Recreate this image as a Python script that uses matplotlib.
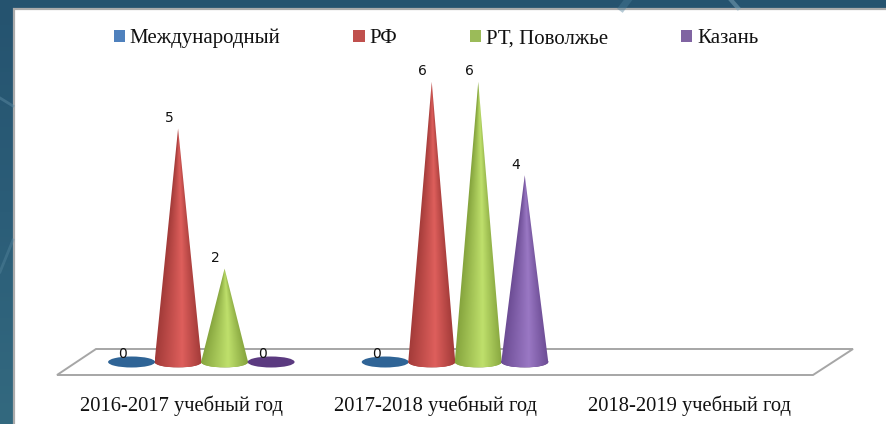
import numpy as np
import matplotlib
matplotlib.use("Agg")
import matplotlib.pyplot as plt
from matplotlib.colors import LinearSegmentedColormap
from matplotlib.patches import Ellipse, PathPatch, Polygon, Rectangle
from matplotlib.path import Path

categories = ["2016-2017 учебный год", "2017-2018 учебный год", "2018-2019 учебный год"]
series_names = ["Международный", "РФ", "РТ, Поволжье", "Казань"]
mezhdunarodny = [0, 0, np.nan]
rf = [5, 6, np.nan]
rt_povolzhye = [2, 6, np.nan]
kazan = [0, 4, np.nan]
all_series = [mezhdunarodny, rf, rt_povolzhye, kazan]

legend_colors = ["#4f81bd", "#c0504d", "#9bbb59", "#8064a2"]
flat_colors = ["#2f6496", "#a83c3a", "#8aa83f", "#5b3a80"]
shades = [("#2c5f90", "#5f93d0"), ("#a33b39", "#de5f5c"),
          ("#86a53e", "#bfe06c"), ("#6c4c94", "#9a78c4")]

W, H = 887, 424
fig = plt.figure(figsize=(W / 100, H / 100), dpi=100)

# background, whole figure in pixels
bg = fig.add_axes([0, 0, 1, 1], zorder=0)
bg.set_xlim(0, W)
bg.set_ylim(H, 0)
bg.axis("off")
grad = np.linspace(0, 1, 100).reshape(-1, 1)
bg_cmap = LinearSegmentedColormap.from_list("bg", ["#25536f", "#2b5d78", "#33697f"])
bg.imshow(grad, extent=[0, W, H, 0], cmap=bg_cmap, aspect="auto")
bg.plot([0, 13], [98, 106], color="#5f8ea6", lw=2, alpha=0.45)
bg.plot([0, 13], [272, 240], color="#5f8ea6", lw=2, alpha=0.35)
bg.plot([731, 738], [0, 8], color="#7da6ba", lw=3, alpha=0.5)
bg.plot([622, 628], [8, 0], color="#4b7f9a", lw=5, alpha=0.4)
bg.add_patch(Rectangle((14, 9), W - 14 + 3, H, facecolor="white", edgecolor="#ababab", lw=1.6))
bg.set_xlim(0, W)
bg.set_ylim(H, 0)

# data axes: bottom edge is the front of the floor
left, right, top, bottom = 55, 816, 60, 375
ax = fig.add_axes([left / W, 1 - bottom / H, (right - left) / W, (bottom - top) / H], zorder=1)
ax.patch.set_alpha(0)
px_per_unit = 46.7
px_per_cat = (right - left) / 3
ax.set_xlim(-0.5, 2.5)
ax.set_ylim(-(bottom - 362) / px_per_unit, (362 - top) / px_per_unit)
for s in ax.spines.values():
    s.set_visible(False)
ax.set_yticks([])
ax.set_xticks(range(len(categories)))
ax.set_xticklabels(categories, family="Liberation Serif", fontsize=14.8, color="#111111")
ax.tick_params(axis="x", length=0, pad=15)

# floor of the 3d box
floor = [(57, 375), (813, 375), (853, 349), (96, 349)]
bg.add_patch(Polygon(floor, closed=True, facecolor="none", edgecolor="#a6a6a6", lw=1.4))

half_w = 23.5 / px_per_cat
half_h = 5.5 / px_per_unit
spacing = 46.5 / px_per_cat
depth = 19.5 / px_per_cat

for i, values in enumerate(all_series):
    cmap = LinearSegmentedColormap.from_list(
        "c%d" % i, [(0, shades[i][0]), (0.58, shades[i][1]), (1, shades[i][0])])
    for j, v in enumerate(values):
        if np.isnan(v):
            continue
        xc = j + depth + (i - 1.5) * spacing
        ax.add_patch(Ellipse((xc, 0), 2 * half_w, 2 * half_h, facecolor=flat_colors[i],
                             edgecolor="none", zorder=3 + i))
        if v > 0:
            t = np.linspace(np.pi, 2 * np.pi, 30)
            verts = [(xc, v)] + list(zip(xc + half_w * np.cos(t), half_h * np.sin(t))) + [(xc, v)]
            codes = [Path.MOVETO] + [Path.LINETO] * 30 + [Path.CLOSEPOLY]
            clip = PathPatch(Path(verts, codes), transform=ax.transData, facecolor="none", edgecolor="none")
            ax.add_patch(clip)
            # shade follows the cone's width, so the tip stays dark at the edges
            uu, hh = np.meshgrid(np.linspace(-1, 1, 80), np.linspace(1, 0, 300))
            shade = np.clip(uu / np.maximum(1 - hh, 0.02), -1, 1) * 0.5 + 0.5
            shade = shade * (1 - hh * 0.15)
            im = ax.imshow(shade, extent=[xc - half_w, xc + half_w, 0, v],
                           cmap=cmap, vmin=0, vmax=1, aspect="auto", zorder=3 + i,
                           interpolation="bilinear")
            low = ax.imshow(shade[-1:], extent=[xc - half_w, xc + half_w, -half_h, 0],
                            cmap=cmap, vmin=0, vmax=1, aspect="auto", zorder=3 + i)
            im.set_clip_path(clip)
            low.set_clip_path(clip)
        ax.annotate("%d" % v, (xc, v), xytext=(-6.5, 2.6 if v > 0 else 0.5), textcoords="offset points",
                    ha="center", va="bottom", fontsize=10, color="#111111",
                    family="DejaVu Sans", zorder=10)

# imshow resets the limits
ax.set_xlim(-0.5, 2.5)
ax.set_ylim(-(bottom - 362) / px_per_unit, (362 - top) / px_per_unit)

handles = [Rectangle((0, 0), 1, 1, facecolor=c, edgecolor="none") for c in legend_colors]
fig.legend(handles, series_names, ncol=4, frameon=False, loc="center left",
           bbox_to_anchor=(95 / W, 1 - 38.5 / H), prop={"family": "Liberation Serif", "size": 15},
           handlelength=0.53, handleheight=0.53, handletextpad=0.24, columnspacing=3.5,
           labelcolor="#111111")

fig.savefig("out.png", dpi=100)
